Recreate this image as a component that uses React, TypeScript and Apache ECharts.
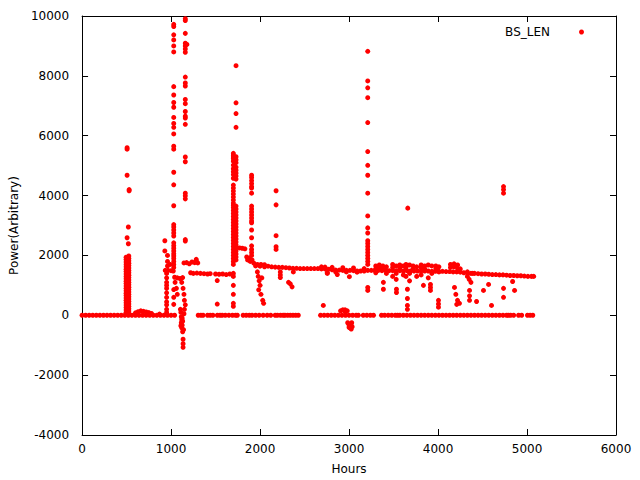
import React, { useEffect, useRef } from 'react';
import * as echarts from 'echarts';

const seriesName = 'BS_LEN';
const xName = 'Hours';
const yName = 'Power(Arbitrary)';
const fontFamily = 'DejaVu Sans';

// Points lying on the zero line (hours)
const zeroHours = [
  0, 40, 80, 120, 160, 200, 240, 280, 320, 360, 400, 440, 480, 520, 560, 600, 640, 680, 720, 760, 800, 840, 880, 920, 960, 1000, 1040,
  1305, 1335, 1360, 1410, 1440, 1470, 1520, 1550, 1575, 1610, 1650, 1690, 1725, 1745, 1810, 1845, 1880, 1910, 1950, 1990, 2035,
  2080, 2120, 2170, 2195, 2230, 2260, 2280, 2310, 2340, 2370, 2400, 2430,
  2680, 2720, 2760, 2800, 2840, 2880, 2920, 2960, 3000, 3040, 3080, 3105,
  3160, 3200, 3240, 3275,
  3365, 3400, 3440, 3480, 3520, 3545,
  3570, 3610, 3650, 3690, 3730, 3770, 3810, 3850, 3890, 3930, 3970, 4010, 4050, 4090, 4130, 4170, 4210, 4250, 4290, 4330,
  4370, 4410, 4450, 4490, 4530, 4570, 4610, 4650, 4690, 4730, 4770, 4790,
  4815, 4850, 4905, 4940, 5005, 5035, 5065,
];

// Main operating level [hours, power]
const plateau: number[][] = [
  [935, 1500], [965, 1500], [1000, 1490], [1025, 1480],
  [1040, 1270], [1070, 1250], [1100, 1230], [1130, 1260],
  [1145, 1750], [1175, 1760], [1205, 1720], [1235, 1780], [1265, 1760],
  [1220, 1420], [1250, 1400], [1290, 1410], [1330, 1400], [1370, 1390], [1410, 1380], [1440, 1390],
  [1500, 1380], [1540, 1370], [1580, 1380], [1620, 1360], [1660, 1380], [1700, 1400],
  [1715, 1900], [1720, 2100],
  [1730, 2260], [1770, 2250], [1800, 2240], [1830, 2220],
  [1850, 1950], [1880, 1900], [1910, 1850], [1860, 1850], [1890, 1800],
  [1930, 1740], [1970, 1700], [2010, 1700], [2050, 1690], [1950, 1650], [2000, 1640], [2050, 1620],
  [2090, 1640], [2130, 1620], [2170, 1610], [2210, 1600], [2250, 1600], [2290, 1590], [2330, 1580], [2370, 1570],
  [2410, 1570], [2450, 1560], [2490, 1560], [2530, 1560], [2570, 1560], [2610, 1560], [2650, 1560], [2690, 1550],
  [2730, 1550], [2770, 1540],
  [2810, 1520], [2850, 1510], [2890, 1510], [2930, 1500], [2970, 1500], [3010, 1500], [3050, 1490], [3090, 1480],
  [3130, 1480], [3170, 1480],
  [2690, 1620], [2730, 1610], [2810, 1600], [2850, 1450], [2930, 1590], [2970, 1450], [3050, 1580], [3090, 1440], [3170, 1560],
  [3210, 1500], [3250, 1500], [3290, 1500], [3330, 1500], [3370, 1490], [3410, 1500], [3450, 1490], [3490, 1490],
  [3530, 1490], [3570, 1490], [3610, 1480], [3650, 1490], [3690, 1480], [3730, 1480], [3770, 1480], [3810, 1480],
  [3850, 1480], [3890, 1480], [3930, 1470], [3970, 1470], [4010, 1470], [4050, 1470], [4090, 1460], [4130, 1460],
  [4170, 1450], [4210, 1450], [4250, 1440],
  [4290, 1420], [4330, 1410], [4370, 1400], [4410, 1400], [4450, 1390], [4490, 1380], [4530, 1380], [4570, 1370],
  [4610, 1360], [4650, 1360], [4690, 1350], [4730, 1350], [4770, 1340], [4810, 1330], [4850, 1330], [4890, 1320],
  [4930, 1320], [4970, 1310], [5010, 1300], [5050, 1300], [5075, 1300],
];

// Dense blocks around the level between 3300 and 4400 hours
const blocks: number[][] = [
  [3300, 1650], [3300, 1550], [3300, 1420], [3340, 1680], [3340, 1600], [3380, 1650], [3380, 1550], [3420, 1620], [3420, 1400],
  [3490, 1700], [3490, 1600], [3490, 1300], [3530, 1650], [3530, 1400], [3530, 1200], [3570, 1680], [3570, 1580], [3610, 1650], [3610, 1350],
  [3640, 1700], [3640, 1600], [3640, 1300], [3680, 1680], [3680, 1400], [3680, 1150], [3720, 1650], [3720, 1550], [3760, 1620], [3760, 1300],
  [3810, 1680], [3810, 1600], [3810, 1350], [3850, 1650], [3850, 1550], [3890, 1680], [3890, 1250], [3930, 1650], [3930, 1400],
  [3975, 1650], [3975, 1550], [4010, 1620], [4010, 1450],
  [4140, 1700], [4140, 1600], [4180, 1720], [4180, 1620], [4220, 1680], [4220, 1560], [4250, 1550],
  [4330, 1450], [4330, 1300], [4350, 1200], [4370, 1100], [4390, 1400],
];

// Vertical runs of readings at one time
const columns: { hour: number; values: number[] }[] = [
  { hour: 495, values: [100, 180, 260, 340, 420, 500, 580, 660, 740, 820, 900, 980, 1060, 1140, 1220, 1300, 1380, 1460, 1540, 1620, 1700, 1780, 1860, 1940] },
  { hour: 525, values: [60, 140, 220, 300, 380, 460, 540, 620, 700, 780, 860, 940, 1020, 1100, 1180, 1260, 1340, 1420, 1500, 1580, 1660, 1740, 1820, 1900, 1980] },
  { hour: 950, values: [100, 200, 350, 450, 600, 750, 900, 1000, 1100, 1250, 1400] },
  { hour: 1030, values: [9720, 9650, 9370, 9200, 9000, 8800, 7640, 7360, 7110, 6950, 6610, 6410, 6280, 6060, 5650, 5550, 4780, 4360, 3660, 3030, 2950, 2850, 2750, 2650, 2420, 2330, 2240, 2150, 2060, 1980, 1900, 1800, 1700, 1600, 860, 600, 365] },
  { hour: 1160, values: [9910, 9850, 9420, 9090, 9000, 8900, 8790, 7960, 7760, 7660, 7210, 7070, 6810, 6650, 6590, 6380, 5290, 5130, 4080, 3990, 3890, 2530, 2480] },
  { hour: 1700, values: [5410, 5350, 5290, 5240, 5150, 5020, 4900, 4800, 4700, 4580, 4350, 4250, 4150, 4050, 3950, 3850, 3750, 3680, 3600, 3500, 3400, 3300, 3200, 3100, 3000, 2900, 2800, 2700, 2600, 2500, 2400, 2300, 2200, 2100, 2000, 1900, 1800, 1700, 1300, 1000, 700, 400, 300] },
  { hour: 1730, values: [8340, 7100, 6740, 6280, 5300, 5200, 5100, 4950, 4850, 4750, 4650, 4550, 3650, 3550, 3450, 3350, 3250, 3150, 3050, 2950, 2850, 2750, 2650, 2550, 2450, 2350, 2260, 2150, 2050, 1950, 1850] },
  { hour: 1905, values: [4680, 4600, 4500, 4400, 4300, 4250, 4080, 3650, 3550, 3450, 3350, 3250, 3150, 3090, 2850, 2590, 2320, 2200, 2100, 2000] },
  { hour: 2180, values: [4160, 3690, 2660, 2290, 2200] },
  { hour: 3210, values: [8820, 7830, 7600, 7270, 6440, 5470, 5010, 4680, 4080, 3320, 2920, 2750, 2490, 2400, 2300, 2200, 2100, 2000, 1900, 1800, 1700, 930, 830] },
  { hour: 4736, values: [4300, 4200, 4080, 900, 600] },
];

// Isolated readings [hours, power]
const scatter: number[][] = [
  [506, 5600], [506, 5550], [506, 4680], [529, 4200], [529, 4160], [520, 2950], [506, 2590], [520, 2390],
  [600, 80], [630, 120], [660, 150], [690, 130], [720, 110], [750, 90], [780, 60], [870, 40],
  [930, 2150], [930, 2490], [960, 2000], [960, 1800], [960, 1650], [990, 1700],
  [1045, 1100], [1060, 900], [1070, 700],
  [1178, 9050],
  [1120, 1100], [1135, 900], [1145, 700], [1150, 500], [1160, 350], [1150, 200], [1145, 50],
  [1105, 200], [1110, 100], [1115, -50], [1120, -150], [1115, -250], [1125, -330], [1120, -420], [1110, -350],
  [1130, -200], [1125, -100], [1140, -480], [1130, -550], [1135, -800], [1135, -950], [1135, -1070],
  [1283, 1870], [1283, 1820], [1300, 1750],
  [1519, 375], [1519, 1160],
  [1970, 1450], [1980, 1300], [1990, 1150], [2000, 1000], [1985, 850], [2010, 700], [2030, 500], [2040, 400], [2020, 1250],
  [2228, 1450], [2228, 1350], [2228, 1260],
  [2320, 1100], [2340, 1050], [2360, 950], [2374, 1450],
  [2711, 330], [2756, 1400], [2756, 1430], [2868, 1360], [3004, 1290],
  [2905, 150], [2930, 180], [2955, 180], [2980, 150], [2960, 100],
  [2985, -250], [3000, -320], [3010, -420], [3025, -460], [3035, -380], [3020, -300], [3000, -400], [3030, -250],
  [3386, 1100], [3386, 870], [3533, 870], [3533, 760], [3656, 870], [3656, 560], [3656, 330], [3656, 200],
  [3836, 1000], [3915, 1030], [3915, 930], [3915, 830], [4005, 500], [4005, 380], [4005, 270],
  [4185, 930], [4200, 700], [4219, 500], [4210, 365], [4241, 400], [4354, 830], [4354, 650], [4354, 500],
  [4433, 460], [4511, 830], [4568, 1030], [4601, 330], [4838, 1130], [4860, 830],
  [3660, 3580],
];

export default function App() {
  const ref = useRef<HTMLDivElement>(null);
  useEffect(() => {
    if (!ref.current) return;
    const chart = echarts.init(ref.current, null, { renderer: 'svg' });
    const data: number[][] = [
      ...zeroHours.map((h) => [h, 0]),
      ...plateau,
      ...blocks,
      ...columns.flatMap((c) => c.values.map((v) => [c.hour, v])),
      ...scatter,
    ];
    const line = { show: true, onZero: false, lineStyle: { color: '#000', width: 1 } };
    const tick = { show: true, inside: true, length: 6, lineStyle: { color: '#000', width: 1 } };
    const label = { color: '#000', fontSize: 12, fontFamily, formatter: (v: number) => String(v) };
    chart.setOption({
      animation: false,
      textStyle: { fontFamily },
      grid: { left: 82, right: 24, top: 16, bottom: 42, containLabel: false },
      legend: {
        data: [seriesName],
        right: 51,
        top: 21,
        align: 'right',
        icon: 'circle',
        itemWidth: 5,
        itemHeight: 5,
        itemStyle: { color: '#ff0000', opacity: 1 },
        textStyle: { color: '#000', fontSize: 12, fontFamily, padding: [0, 24, 0, 0] },
      },
      xAxis: [
        {
          type: 'value', position: 'bottom', min: 0, max: 6000, interval: 1000,
          axisLine: line, axisTick: tick, splitLine: { show: false },
          axisLabel: { ...label, margin: 8 },
          name: xName, nameLocation: 'middle', nameGap: 28,
          nameTextStyle: { color: '#000', fontSize: 12, fontFamily },
        },
        {
          type: 'value', position: 'top', min: 0, max: 6000, interval: 1000,
          axisLine: line, axisTick: tick, splitLine: { show: false }, axisLabel: { show: false },
        },
      ],
      yAxis: [
        {
          type: 'value', position: 'left', min: -4000, max: 10000, interval: 2000,
          axisLine: line, axisTick: tick, splitLine: { show: false },
          axisLabel: { ...label, margin: 13 },
          name: yName, nameLocation: 'middle', nameGap: 60, nameRotate: 90,
          nameTextStyle: { color: '#000', fontSize: 12, fontFamily },
        },
        {
          type: 'value', position: 'right', min: -4000, max: 10000, interval: 2000,
          axisLine: line, axisTick: tick, splitLine: { show: false }, axisLabel: { show: false },
        },
      ],
      series: [
        {
          type: 'scatter',
          name: seriesName,
          xAxisIndex: 0,
          yAxisIndex: 0,
          symbol: 'circle',
          symbolSize: 5,
          itemStyle: { color: '#ff0000', opacity: 1 },
          data,
        },
      ],
    });
    return () => chart.dispose();
  }, []);
  return <div ref={ref} style={{ position: 'absolute', left: 0, top: 0, width: 640, height: 480 }} />;
}
